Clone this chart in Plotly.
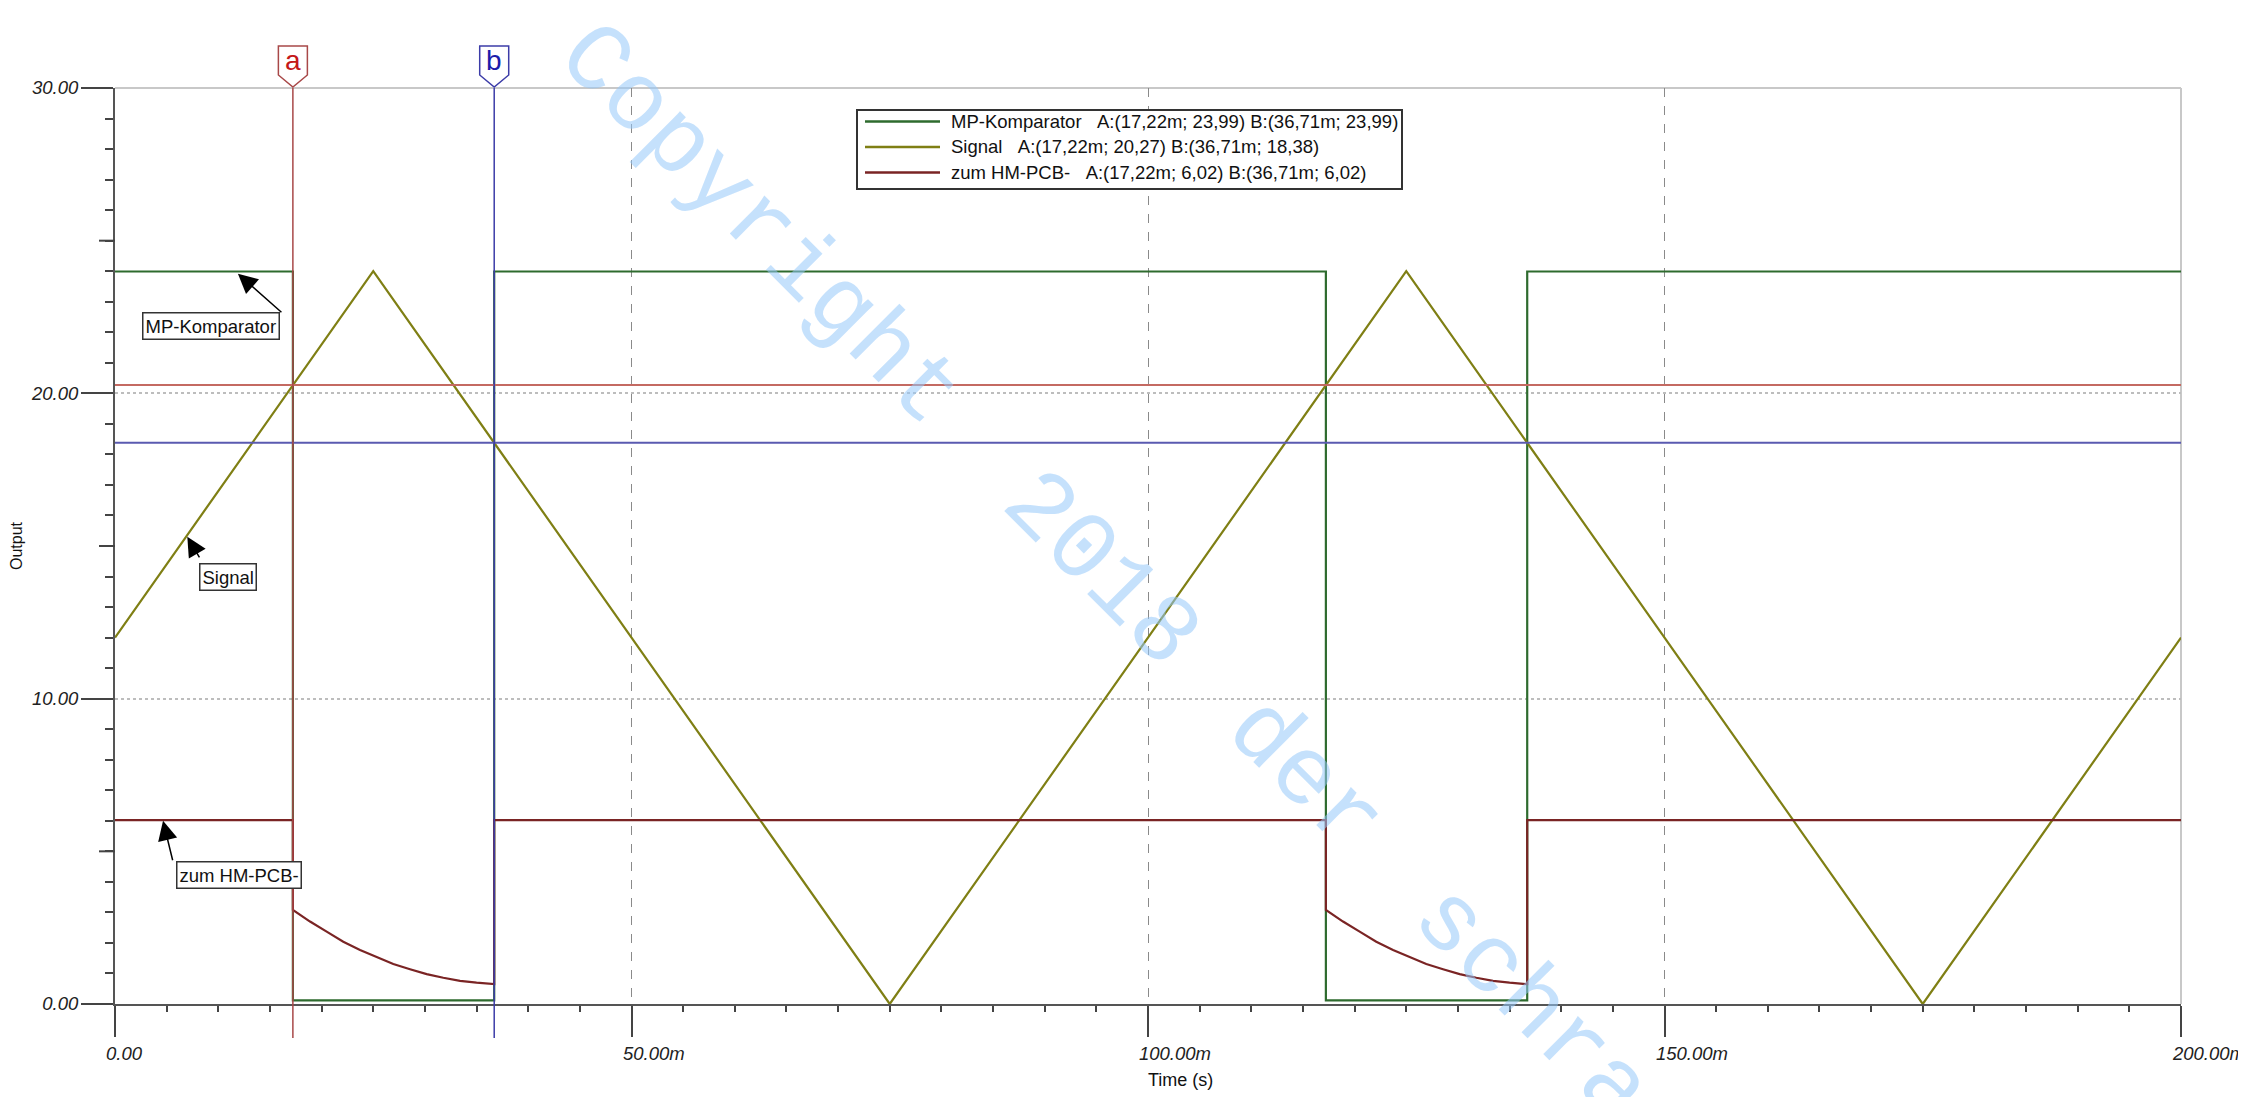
import plotly.graph_objects as go

# ---------------- data ----------------
cursor_t = [17.22, 36.71]           # ms, cursors a and b
cursor_names = ["a", "b"]
cursor_level_a = 20.27              # horizontal cursor line (Signal at a)
cursor_level_b = 18.38              # horizontal cursor line (Signal at b)

series_names = ["MP-Komparator", "Signal", "zum HM-PCB-"]
readout_a = ["23,99", "20,27", "6,02"]
readout_b = ["23,99", "18,38", "6,02"]

komp_t = [0, 17.22, 17.22, 36.71, 36.71, 117.22, 117.22, 136.71, 136.71, 200]
komp_v = [23.99, 23.99, 0.12, 0.12, 23.99, 23.99, 0.12, 0.12, 23.99, 23.99]

signal_t = [0, 25, 75, 125, 175, 200]
signal_v = [12, 24, 0, 24, 0, 12]

hm_t = [0, 17.22, 17.22, 18.88, 20.49, 22.1, 23.72, 25.33, 26.94, 28.56, 30.17,
        31.78, 33.4, 35.0, 36.3, 36.71, 36.71,
        117.22, 117.22, 118.88, 120.49, 122.1, 123.72, 125.33, 126.94, 128.56, 130.17,
        131.78, 133.4, 135.0, 136.3, 136.71, 136.71, 200]
hm_v = [6.02, 6.02, 3.08, 2.70, 2.37, 2.04, 1.77, 1.53, 1.31, 1.14, 0.98,
        0.86, 0.76, 0.70, 0.66, 0.65, 6.02,
        6.02, 3.08, 2.70, 2.37, 2.04, 1.77, 1.53, 1.31, 1.14, 0.98,
        0.86, 0.76, 0.70, 0.66, 0.65, 6.02, 6.02]

x_tickvals = [0, 50, 100, 150, 200]
x_ticktext = ["0.00", "50.00m", "100.00m", "150.00m", "200.00m"]
y_tickvals = [0, 10, 20, 30]
y_ticktext = ["0.00", "10.00", "20.00", "30.00"]
y_mid_ticks = [5, 15, 25]

watermark_words = ["Copyright", "2018", "der", "schra"]

# ---------------- styling ----------------
W, H = 2246, 1097
OFF = 8                      # page body margin in the browser
# plot area in screen pixels: x 115..2181, y 88..1004
SX0, SX1, SY0, SY1 = 115, 2181, 88, 1004
ML, MT = SX0 - OFF, SY0 - OFF
MR, MB = W - (SX1 - OFF), H - (SY1 - OFF)
PW, PH = SX1 - SX0, SY1 - SY0
FONT = "Liberation Sans, Arial, sans-serif"
C_KOMP = "#2e6b2e"
C_SIG = "#7f7f14"
C_HM = "#7a2424"
C_A = "#a84848"
C_B = "#3c3ca8"


def px(xp):
    return (xp - SX0) / PW


def py(yp):
    return (SY1 - yp) / PH


fig = go.Figure()
fig.add_trace(go.Scatter(x=komp_t, y=komp_v, mode="lines", name=series_names[0],
                         line=dict(color=C_KOMP, width=2.2), showlegend=False))
fig.add_trace(go.Scatter(x=signal_t, y=signal_v, mode="lines", name=series_names[1],
                         line=dict(color=C_SIG, width=2.2), showlegend=False))
fig.add_trace(go.Scatter(x=hm_t, y=hm_v, mode="lines", name=series_names[2],
                         line=dict(color=C_HM, width=2.2), showlegend=False))

shapes = []
# top / right light borders
shapes.append(dict(type="line", xref="paper", yref="paper", x0=0, x1=1, y0=1, y1=1,
                   line=dict(color="#c8c8c8", width=2), layer="below"))
shapes.append(dict(type="line", xref="paper", yref="paper", x0=1, x1=1, y0=0, y1=1,
                   line=dict(color="#c8c8c8", width=2), layer="below"))
# medium y ticks
for v in y_mid_ticks:
    shapes.append(dict(type="line", xref="paper", xsizemode="pixel", xanchor=0,
                       x0=-16, x1=0, yref="y", y0=v, y1=v,
                       line=dict(color="#444", width=2)))
# horizontal cursor lines
shapes.append(dict(type="line", xref="paper", x0=0, x1=1, yref="y",
                   y0=cursor_level_a, y1=cursor_level_a, line=dict(color="#c46a62", width=2)))
shapes.append(dict(type="line", xref="paper", x0=0, x1=1, yref="y",
                   y0=cursor_level_b, y1=cursor_level_b, line=dict(color="#5a5ab0", width=2)))
# vertical cursor lines + flags
for t, col in zip(cursor_t, [C_A, C_B]):
    shapes.append(dict(type="line", xref="x", x0=t, x1=t, yref="paper",
                       y0=-34 / PH, y1=1, line=dict(color=col, width=1.5)))
    shapes.append(dict(type="path", xref="x", xsizemode="pixel", xanchor=t,
                       yref="paper", ysizemode="pixel", yanchor=1,
                       path="M-14.5,13 L-14.5,42 L14.5,42 L14.5,13 L0,1 Z",
                       fillcolor="white", line=dict(color=col, width=1.5)))

# custom legend box (screen pixel positions)
LX0, LX1, LY0, LY1 = 857, 1402, 110, 189
shapes.append(dict(type="rect", xref="paper", yref="paper",
                   x0=px(LX0), x1=px(LX1), y0=py(LY1), y1=py(LY0),
                   fillcolor="white", line=dict(color="#333", width=2)))
row_y = [121.5, 147, 172.5]
for ry, col in zip(row_y, [C_KOMP, C_SIG, C_HM]):
    shapes.append(dict(type="line", xref="paper", yref="paper",
                       x0=px(865), x1=px(940), y0=py(ry), y1=py(ry),
                       line=dict(color=col, width=2.5)))

annotations = []
nb = "\u00a0"
ta = f"{cursor_t[0]:.2f}".replace(".", ",")
tb = f"{cursor_t[1]:.2f}".replace(".", ",")
for name, va, vb, ry in zip(series_names, readout_a, readout_b, row_y):
    txt = f"{name}{nb*3}A:({ta}m; {va}) B:({tb}m; {vb})"
    annotations.append(dict(text=txt, xref="paper", yref="paper", x=px(949), y=py(ry),
                            xanchor="left", yanchor="middle", showarrow=False,
                            font=dict(family=FONT, size=18.5, color="#111")))

# cursor flag letters
for t, nm, col in zip(cursor_t, cursor_names, ["#c41818", "#1c1caa"]):
    annotations.append(dict(text=nm, xref="x", x=t, yref="paper", y=1, yshift=28,
                            showarrow=False, xanchor="center", yanchor="middle",
                            font=dict(family=FONT, size=28, color=col)))

# curve labels (boxes) and arrows
labels = [
    ("MP-Komparator", 9.29, 22.21, 11.9, 23.92, 45, 40),
    ("Signal", 10.94, 14.0, 7.0, 15.3, 13, 22),
    ("zum HM-PCB-", 12.0, 4.24, 4.65, 6.0, 10, 41),
]
for txt, bx, by, tx, ty, ax, ay in labels:
    annotations.append(dict(text=txt, x=bx, y=by, xref="x", yref="y", showarrow=False,
                            bgcolor="white", bordercolor="#333", borderwidth=1.5, borderpad=2,
                            font=dict(family=FONT, size=18.5, color="#111")))
    annotations.append(dict(text="", x=tx, y=ty, xref="x", yref="y", showarrow=True,
                            ax=ax, ay=ay, arrowhead=2, arrowsize=2.6, arrowwidth=1.5,
                            arrowcolor="#000", standoff=0))

tickfont = dict(family=FONT, size=18.5, color="#222", style="italic")

# x tick labels: left-aligned next to the tick, below the long major tick
for v, s in zip(x_tickvals, x_ticktext):
    annotations.append(dict(text=s, xref="x", x=v, yref="paper", y=0, xanchor="left",
                            yanchor="middle", xshift=-11, yshift=-49, showarrow=False,
                            font=tickfont))

# x axis title
annotations.append(dict(text="Time (s)", xref="paper", yref="paper", x=px(1180), y=py(1080),
                        xanchor="center", yanchor="middle", showarrow=False,
                        font=dict(family=FONT, size=18, color="#111")))

# watermark, word by word along the diagonal (screen pixel centres)
wm_centres = [(759, 226), (1100, 570), (1304, 776), (1531, 1005)]
for word, (cx, cy) in zip(watermark_words, wm_centres):
    annotations.append(dict(text=word, xref="paper", yref="paper",
                            x=px(cx), y=py(cy), showarrow=False, textangle=45,
                            xanchor="center", yanchor="middle",
                            font=dict(family="Liberation Mono, monospace", size=97,
                                      color="rgba(150,200,250,0.55)")))

fig.update_layout(
    width=W, height=H,
    margin=dict(l=ML, r=MR, t=MT, b=MB, pad=0, autoexpand=False),
    paper_bgcolor="white", plot_bgcolor="white",
    showlegend=False,
    shapes=shapes, annotations=annotations,
    xaxis=dict(range=[0, 200], tickmode="array", tickvals=x_tickvals, ticktext=x_ticktext,
               ticks="outside", ticklen=31, tickwidth=2, tickcolor="#444",
               showline=True, linecolor="#555", linewidth=2,
               showgrid=True, gridcolor="#8a8a8a", griddash="dash", gridwidth=1,
               zeroline=False, showticklabels=False, automargin=False,
               minor=dict(tickmode="linear", tick0=0, dtick=5, ticks="outside",
                          ticklen=6, tickwidth=1.5, tickcolor="#444", showgrid=False)),
    yaxis=dict(range=[0, 30], tickmode="array", tickvals=y_tickvals, ticktext=y_ticktext,
               ticks="outside", ticklen=32, tickwidth=2, tickcolor="#444",
               showline=True, linecolor="#555", linewidth=2,
               showgrid=True, gridcolor="#bdbdbd", griddash="dot", gridwidth=2,
               zeroline=False, tickfont=tickfont, ticklabelstandoff=-1, automargin=False,
               minor=dict(tickmode="linear", tick0=0, dtick=1, ticks="outside",
                          ticklen=8, tickwidth=2, tickcolor="#444", showgrid=False),
               title=dict(text="Output", font=dict(family=FONT, size=16, color="#111"),
                          standoff=8)),
)

fig.write_html("out.html")
